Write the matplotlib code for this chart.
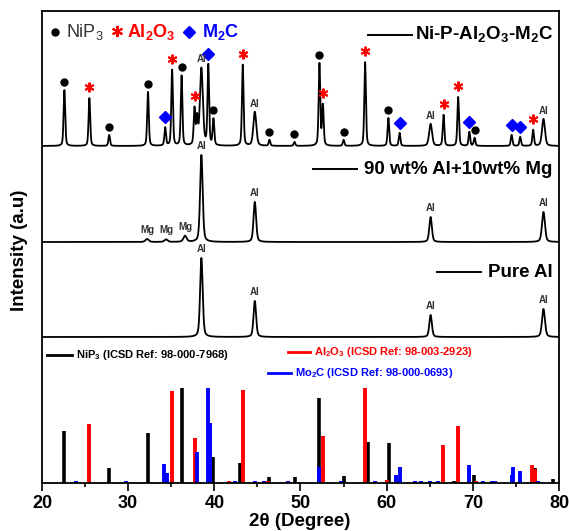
import numpy as np
import matplotlib
matplotlib.use('Agg')
import matplotlib.pyplot as plt
from matplotlib.ticker import MultipleLocator

plt.rcParams['font.family'] = ['Liberation Sans', 'DejaVu Sans']
plt.rcParams['mathtext.fontset'] = 'custom'
plt.rcParams['mathtext.rm'] = 'Liberation Sans'
plt.rcParams['mathtext.bf'] = 'Liberation Sans:bold'

# Ni-P-Al2O3-M2C coating: peak position (deg), height (a.u.), phase tag
top_pos = [22.6, 25.5, 27.8, 32.3, 34.3, 35.1, 36.2, 37.7, 38.0, 38.5, 39.3, 39.9,
           43.3, 44.7, 46.4, 49.3, 52.2, 52.6, 55.0, 57.5, 60.2, 61.5, 65.1, 66.6,
           68.3, 69.6, 70.2, 74.5, 75.5, 77.0, 78.2]
top_hgt = [56, 48, 11, 54, 18, 76, 70, 36, 26, 77, 80, 26,
           81, 34, 6, 4, 82, 40, 6, 84, 28, 13, 22, 31,
           49, 14, 8, 11, 9, 16, 27]
top_tag = ['N', 'A', 'N', 'N', 'M', 'A', 'N', 'A', '', 'Al', 'M', 'N',
           'A', 'Al', 'N', 'N', 'N', 'A', 'N', 'A', 'N', 'M', 'Al', 'A',
           'A', 'M', 'N', 'M', 'M', 'A', 'Al']

# 90 wt% Al + 10 wt% Mg
mix_pos = [32.2, 34.4, 36.6, 38.5, 44.7, 65.1, 78.2]
mix_hgt = [3, 2.5, 6, 87, 40, 25, 30]
mix_tag = ['Mg', 'Mg', 'Mg', 'Al', 'Al', 'Al', 'Al']

# Pure Al
al_pos = [38.5, 44.7, 65.1, 78.2]
al_hgt = [79, 36, 22, 28]

# reference patterns (ICSD)
nip3_pos = [22.6, 27.8, 32.3, 36.2, 39.9, 43.0, 46.4, 49.4, 52.2, 55.0, 57.8,
            60.3, 67.8, 70.1, 77.2, 79.3]
nip3_hgt = [52, 15, 50, 95, 26, 20, 6, 6, 85, 7, 41, 40, 2, 8, 15, 4]
al2o3_pos = [25.5, 35.1, 37.7, 41.7, 43.3, 46.2, 52.6, 57.5, 60.0, 61.1, 66.5,
             68.3, 70.4, 76.9, 77.2]
al2o3_hgt = [59, 92, 45, 1.5, 93, 2, 47, 95, 3, 2, 38, 57, 2, 18, 14]
mo2c_pos = [23.9, 29.7, 34.2, 34.5, 38.0, 39.3, 39.5, 42.4, 44.7, 45.8, 48.5,
            52.1, 54.7, 58.7, 61.1, 61.5, 63.3, 64.0, 65.0, 66.0, 69.5, 71.2,
            72.2, 72.6, 74.5, 74.7, 75.5, 77.6]
mo2c_hgt = [1.5, 1.5, 19, 10, 31, 95, 60, 1.5, 1.5, 1.5, 1.5,
            16, 1.5, 1.5, 8, 16, 1.5, 1.5, 1.5, 1.5, 18, 1.5,
            2, 2, 8, 16, 12, 1.5]

top_base, mix_base, al_base = 337, 241, 146


def profile(x, pos, hgt, w):
    y = np.zeros_like(x)
    for p, h, wi in zip(pos, hgt, w):
        u = (x - p) / wi
        y += h * (0.6 * np.exp(-4 * np.log(2) * u ** 2) + 0.4 / (1 + 4 * u ** 2))
    return y


x = np.linspace(20, 80, 4000)
top_w = [0.4 if t == 'Al' else 0.22 for t in top_tag]
y_top = top_base + profile(x, top_pos, top_hgt, top_w)
y_mix = mix_base + profile(x, mix_pos, mix_hgt, [0.45, 0.45, 0.45, 0.35, 0.35, 0.35, 0.4])
y_al = al_base + profile(x, al_pos, al_hgt, [0.35, 0.35, 0.35, 0.4])

fig = plt.figure(figsize=(5.69, 5.31), dpi=100)
ax = fig.add_axes([0.0738, 0.0904, 0.9086, 0.8889])

for y in (y_top, y_mix, y_al):
    ax.plot(x, y, color='black', lw=1.3)

ax.vlines(nip3_pos, 0, nip3_hgt, color='black', lw=2.6)
ax.vlines(al2o3_pos, 0, al2o3_hgt, color='#ff0000', lw=2.8)
ax.vlines(mo2c_pos, 0, mo2c_hgt, color='#0000ff', lw=2.8)

# phase markers on the coating pattern
for p, t in zip(top_pos, top_tag):
    yp = np.interp(p, x, y_top)
    if t == 'N':
        ax.plot(p, yp + 8, 'o', color='black', ms=5)
    elif t == 'A':
        ax.plot(p, yp + 11, marker=(6, 2, 0), color='#ff0000', ms=7, mew=1.4)
    elif t == 'M':
        ax.plot(p, yp + 10, 'D', color='#0000ff', ms=6)
    elif t == 'Al':
        ax.text(p, yp + 3, 'Al', fontsize=7, fontweight='bold', color='#333333',
                ha='center', va='bottom')

for p, t in zip(mix_pos, mix_tag):
    yp = np.interp(p, x, y_mix)
    ax.text(p, yp + 4, t, fontsize=7, fontweight='bold', color='#333333',
            ha='center', va='bottom')

for p in al_pos:
    yp = np.interp(p, x, y_al)
    ax.text(p, yp + 4, 'Al', fontsize=7, fontweight='bold', color='#333333',
            ha='center', va='bottom')

tr = ax.transAxes
# phase key at top left
ax.plot(0.025, 0.9555, 'o', color='black', ms=5, transform=tr)
ax.text(0.046, 0.9555, 'NiP$_3$', fontsize=13, color='#333333', va='center', transform=tr)
ax.plot(0.145, 0.958, marker=(6, 2, 0), color='#ff0000', ms=8, mew=1.5, transform=tr)
ax.text(0.164, 0.9555, r'Al$_\mathbf{2}$O$_\mathbf{3}$', fontsize=13, fontweight='bold',
        color='#ff0000', va='center', transform=tr)
ax.plot(0.284, 0.9555, 'D', color='#0000ff', ms=6.5, transform=tr)
ax.text(0.309, 0.9555, r'M$_\mathbf{2}$C', fontsize=13, fontweight='bold',
        color='#0000ff', va='center', transform=tr)

# sample labels
samples = [(r'Ni-P-Al$_\mathbf{2}$O$_\mathbf{3}$-M$_\mathbf{2}$C', 0.949, 0.631, 0.716),
           ('90 wt% Al+10wt% Mg', 0.665, 0.524, 0.609),
           ('Pure Al', 0.447, 0.764, 0.849)]
for lab, fy, x0, x1 in samples:
    ax.plot([x0, x1], [fy, fy], color='black', lw=1.4, transform=tr)
    ax.text(0.988, fy, lab, fontsize=13.5, fontweight='bold', ha='right',
            va='center', transform=tr)

# reference keys
refs = [(r'NiP$_\mathbf{3}$ (ICSD Ref: 98-000-7968)', 'black', 0.271, 0.0097, 0.058),
        (r'Al$_\mathbf{2}$O$_\mathbf{3}$ (ICSD Ref: 98-003-2923)', '#ff0000', 0.2775, 0.476, 0.518),
        (r'Mo$_\mathbf{2}$C (ICSD Ref: 98-000-0693)', '#0000ff', 0.233, 0.437, 0.482)]
for lab, c, fy, x0, x1 in refs:
    ax.plot([x0, x1], [fy, fy], color=c, lw=2, transform=tr)
    ax.text(x1 + 0.008, fy, lab, fontsize=8, fontweight='bold', color=c,
            va='center', transform=tr)

ax.set_xlim(20, 80)
ax.set_ylim(0, 472)
ax.set_yticks([])
ax.xaxis.set_major_locator(MultipleLocator(10))
ax.xaxis.set_minor_locator(MultipleLocator(5))
ax.tick_params(axis='x', which='major', direction='out', length=5.5, width=1.2,
               labelsize=13, pad=3)
ax.tick_params(axis='x', which='minor', direction='out', length=3, width=1.2)
for lbl in ax.get_xticklabels():
    lbl.set_fontweight('bold')
for s in ax.spines.values():
    s.set_linewidth(1.3)

fig.text(0.527, 0.017, '2θ (Degree)', fontsize=13.5, fontweight='bold',
         ha='center', va='center')
fig.text(0.034, 0.529, 'Intensity (a.u)', fontsize=13.5, fontweight='bold',
         ha='center', va='center', rotation=90)

fig.savefig('out.png', dpi=100)
